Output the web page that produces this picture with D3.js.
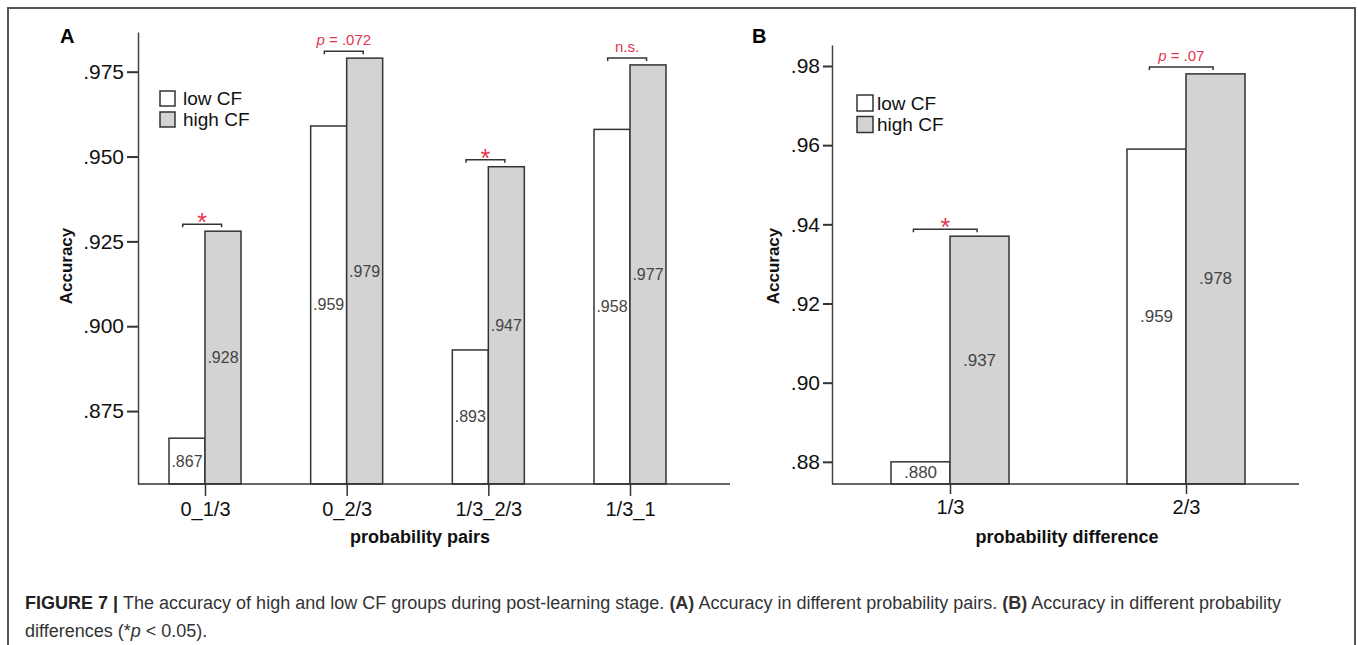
<!DOCTYPE html>
<html>
<head>
<meta charset="utf-8">
<script src="https://cdn.jsdelivr.net/npm/d3@7"></script>
<style>
  body { margin: 0; background: #fff; }
  svg { display: block; font-family: "Liberation Sans", Arial, sans-serif; }
</style>
</head>
<body>
<svg class="figure"></svg>
<script>
// panel A: probability pairs
const pairCats = ['0_1/3', '0_2/3', '1/3_2/3', '1/3_1']
const pairLow = [0.867, 0.959, 0.893, 0.958]
const pairHigh = [0.928, 0.979, 0.947, 0.977]
const pairSig = ['*', 'p = .072', '*', 'n.s.']
const pairTicks = [0.875, 0.900, 0.925, 0.950, 0.975]

// panel B: probability difference
const diffCats = ['1/3', '2/3']
const diffLow = [0.880, 0.959]
const diffHigh = [0.937, 0.978]
const diffSig = ['*', 'p = .07']
const diffTicks = [0.88, 0.90, 0.92, 0.94, 0.96, 0.98]

const groups = ['low CF', 'high CF']

const width = 1358, height = 645
const red = '#e0374f'
const dark = '#333'
const grayFill = '#d3d3d3'

const svg = d3.select('.figure').attr('width', width).attr('height', height)

// outer frame (open at the bottom edge of the page)
svg.append('rect')
  .attr('x', 8).attr('y', 8)
  .attr('width', 1347).attr('height', 700)
  .attr('fill', 'none').attr('stroke', '#555').attr('stroke-width', 2)

const noZero = f => v => f(v).replace(/^0/, '')

function drawPanel(opts) {
  const g = svg.append('g')
  const y = d3.scaleLinear().domain(opts.yDomain).range([opts.base, opts.top])
  const x = d3.scalePoint().domain(opts.cats).range(opts.xRange)
  const bw = opts.barWidth

  // panel letter
  g.append('text')
    .attr('x', opts.letterX).attr('y', 43)
    .attr('font-size', 20).attr('font-weight', 'bold')
    .text(opts.letter)

  // bars
  const rows = opts.cats.map((c, i) => ({ cat: c, low: opts.low[i], high: opts.high[i], sig: opts.sig[i] }))
  const bars = g.append('g').selectAll('g').data(rows).enter().append('g')

  bars.append('rect')
    .attr('x', d => x(d.cat) - bw)
    .attr('y', d => y(d.low))
    .attr('width', bw)
    .attr('height', d => opts.base - y(d.low))
    .attr('fill', '#fff').attr('stroke', dark).attr('stroke-width', 1.5)

  bars.append('rect')
    .attr('x', d => x(d.cat))
    .attr('y', d => y(d.high))
    .attr('width', bw)
    .attr('height', d => opts.base - y(d.high))
    .attr('fill', grayFill).attr('stroke', dark).attr('stroke-width', 1.5)

  const fmtVal = noZero(d3.format('.3f'))
  bars.append('text')
    .attr('x', d => x(d.cat) - bw / 2)
    .attr('y', d => (y(d.low) + opts.base) / 2)
    .attr('text-anchor', 'middle').attr('dominant-baseline', 'central')
    .attr('font-size', opts.valueSize).attr('fill', '#444')
    .text(d => fmtVal(d.low))

  bars.append('text')
    .attr('x', d => x(d.cat) + bw / 2)
    .attr('y', d => (y(d.high) + opts.base) / 2)
    .attr('text-anchor', 'middle').attr('dominant-baseline', 'central')
    .attr('font-size', opts.valueSize).attr('fill', '#444')
    .text(d => fmtVal(d.high))

  // significance brackets
  const sig = bars.append('g')
    .attr('transform', d => `translate(${x(d.cat)},${y(d.high) - 7})`)
  sig.append('path')
    .attr('d', `M${-0.62 * bw},3V0H${0.46 * bw}V3`)
    .attr('fill', 'none').attr('stroke', dark).attr('stroke-width', 1.5)
  sig.append('text')
    .attr('x', -0.08 * bw)
    .attr('y', d => d.sig === '*' ? 7 : -6)
    .attr('text-anchor', 'middle')
    .attr('font-size', d => d.sig === '*' ? 25 : 15)
    .attr('fill', red)
    .each(function(d) {
      const t = d3.select(this)
      if (d.sig.startsWith('p')) {
        t.append('tspan').attr('font-style', 'italic').text('p')
        t.append('tspan').text(d.sig.slice(1))
      } else {
        t.text(d.sig)
      }
    })

  // y axis
  const yAxis = g.append('g')
    .attr('transform', `translate(${opts.axisX},0)`)
    .call(d3.axisLeft(y).tickValues(opts.ticks).tickFormat(noZero(d3.format(opts.tickFmt)))
      .tickSize(opts.yTickSize).tickSizeOuter(0).tickPadding(3))
  yAxis.select('.domain').attr('stroke', '#444').attr('stroke-width', 1.5)
  yAxis.selectAll('.tick line').attr('stroke', dark).attr('stroke-width', 2)
  yAxis.selectAll('.tick text')
    .attr('font-size', 21).attr('fill', '#111')
    .attr('font-family', '"Liberation Sans", Arial, sans-serif')

  // x axis
  g.append('line')
    .attr('x1', opts.axisX).attr('x2', opts.xEnd)
    .attr('y1', opts.base).attr('y2', opts.base)
    .attr('stroke', dark).attr('stroke-width', 1.5)
  const xAxis = g.append('g')
    .attr('transform', `translate(0,${opts.base})`)
    .call(d3.axisBottom(x).tickSize(opts.xTickSize).tickPadding(6))
  xAxis.select('.domain').remove()
  xAxis.selectAll('.tick line').attr('stroke', dark).attr('stroke-width', 1.5)
  xAxis.selectAll('.tick text')
    .attr('font-size', 20).attr('fill', '#111')
    .attr('font-family', '"Liberation Sans", Arial, sans-serif')

  // axis titles
  g.append('text')
    .attr('x', opts.xTitleX).attr('y', 543)
    .attr('text-anchor', 'middle')
    .attr('font-size', 18).attr('font-weight', 'bold').attr('fill', '#111')
    .text(opts.xTitle)

  g.append('text')
    .attr('transform', `translate(${opts.yTitleX},266) rotate(-90)`)
    .attr('text-anchor', 'middle').attr('dominant-baseline', 'central')
    .attr('font-size', 17).attr('font-weight', 'bold').attr('fill', '#111')
    .text('Accuracy')

  // legend
  const leg = g.append('g').selectAll('g').data(groups).enter().append('g')
    .attr('transform', (d, i) => `translate(${opts.legendX},${opts.legendY + i * opts.legendStep})`)
  leg.append('rect')
    .attr('width', opts.legendBox).attr('height', opts.legendBox)
    .attr('fill', (d, i) => i ? grayFill : '#fff')
    .attr('stroke', dark).attr('stroke-width', 1.5)
  leg.append('text')
    .attr('x', opts.legendBox + opts.legendGap).attr('y', opts.legendBox / 2)
    .attr('dominant-baseline', 'central')
    .attr('font-size', 19).attr('fill', '#111')
    .text(d => d)
}

drawPanel({
  letter: 'A', letterX: 60,
  cats: pairCats, low: pairLow, high: pairHigh, sig: pairSig,
  ticks: pairTicks, tickFmt: '.3f',
  yDomain: [0.8535, 0.9867], base: 484, top: 32,
  xRange: [205, 630], barWidth: 36,
  axisX: 138, xEnd: 730, yTickSize: 11, xTickSize: 12,
  valueSize: 16,
  xTitle: 'probability pairs', xTitleX: 420, yTitleX: 66,
  legendX: 160, legendY: 91, legendStep: 21, legendBox: 15, legendGap: 8
})

drawPanel({
  letter: 'B', letterX: 752,
  cats: diffCats, low: diffLow, high: diffHigh, sig: diffSig,
  ticks: diffTicks, tickFmt: '.2f',
  yDomain: [0.8744, 0.9853], base: 484, top: 45,
  xRange: [950, 1186], barWidth: 59,
  axisX: 832, xEnd: 1299, yTickSize: 9, xTickSize: 10,
  valueSize: 17,
  xTitle: 'probability difference', xTitleX: 1067, yTitleX: 773,
  legendX: 857, legendY: 95, legendStep: 21.5, legendBox: 16, legendGap: 4
})

// caption
const cap = svg.append('text')
  .attr('font-size', 18).attr('fill', '#333')
const line1 = cap.append('tspan').attr('x', 25).attr('y', 609)
line1.append('tspan').attr('font-weight', 'bold').attr('fill', '#222').text('FIGURE 7 | ')
line1.append('tspan').text('The accuracy of high and low CF groups during post-learning stage. ')
line1.append('tspan').attr('font-weight', 'bold').text('(A)')
line1.append('tspan').text(' Accuracy in different probability pairs. ')
line1.append('tspan').attr('font-weight', 'bold').text('(B)')
line1.append('tspan').text(' Accuracy in different probability')
const line2 = cap.append('tspan').attr('x', 25).attr('y', 637)
line2.append('tspan').text('differences (*')
line2.append('tspan').attr('font-style', 'italic').text('p')
line2.append('tspan').text(' < 0.05).')
</script>
</body>
</html>
